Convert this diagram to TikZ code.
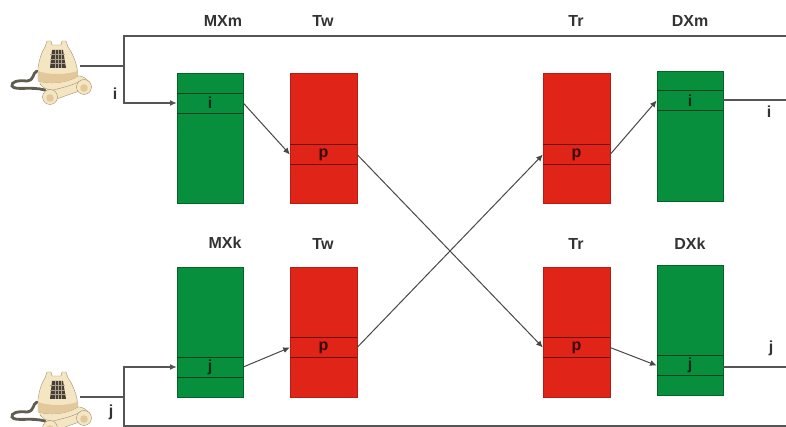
\documentclass[tikz,border=0pt]{standalone}
\usepackage{fontspec}
\setmainfont{Liberation Sans}
\usetikzlibrary{arrows.meta}
\definecolor{bxgreen}{RGB}{8,143,62}
\definecolor{bxred}{RGB}{224,36,24}
\definecolor{lnc}{RGB}{85,85,85}
\definecolor{phbody}{RGB}{245,230,195}
\definecolor{phshade}{RGB}{226,200,155}
\definecolor{phdark}{RGB}{70,62,55}
\definecolor{phcord}{RGB}{95,92,80}
\definecolor{phedge}{RGB}{165,145,110}
\tikzset{
  x=0.75pt,y=-0.75pt,
  wire/.style={draw=lnc,line width=0.9pt},
  link/.style={draw=black!72,line width=0.75pt,-{Latex[length=5pt,width=4.5pt]}},
  feed/.style={wire,-{Latex[length=5pt,width=4.5pt]}},
  gbox/.style={draw=black!30!bxgreen,fill=bxgreen,line width=0.4pt,inner sep=0pt,minimum width=49.5pt,minimum height=97.5pt},
  rbox/.style={draw=black!20!bxred,fill=bxred,line width=0.4pt,inner sep=0pt,minimum width=50pt,minimum height=97.5pt},
  bandtxt/.style={inner sep=0pt,font=\bfseries\fontsize{12pt}{13pt}\selectfont},
  gband/.style={bandtxt,minimum width=49.5pt,minimum height=14.6pt,text=black!70!bxgreen,
    append after command={(\tikzlastnode.north west) edge[draw=black!55!bxgreen,line width=0.7pt] (\tikzlastnode.north east)
      (\tikzlastnode.south west) edge[draw=black!55!bxgreen,line width=0.7pt] (\tikzlastnode.south east)}},
  rband/.style={bandtxt,minimum width=50pt,minimum height=14.4pt,text=black!75!bxred,
    append after command={(\tikzlastnode.north west) edge[draw=black!50!bxred,line width=0.7pt] (\tikzlastnode.north east)
      (\tikzlastnode.south west) edge[draw=black!50!bxred,line width=0.7pt] (\tikzlastnode.south east)}},
  title/.style={font=\bfseries\fontsize{12pt}{13pt}\selectfont,text=black!80,inner sep=0pt},
  lbl/.style={font=\bfseries\fontsize{12pt}{13pt}\selectfont,text=black!80,inner sep=0pt},
  pics/phone/.style={code={
    % cord
    \draw[phcord,line width=2.1pt,line cap=round] (37,71) .. controls (32,73) and (35,80) .. (27,81) .. controls (17,80) and (11,82) .. (12,86) .. controls (15,91) and (30,86) .. (45,90);
    % cradle base
    \fill[phbody,draw=phedge,line width=0.3pt] (40,76) -- (80,76) .. controls (88,78) and (92,84) .. (90,89) .. controls (84,91) and (76,87) .. (60,90) .. controls (52,91) and (44,90) .. (40,84) -- cycle;
    % body
    \fill[phbody,draw=phedge,line width=0.3pt] (38,81) -- (38,68) .. controls (39,60) and (42,51) .. (45,47) -- (47,41) -- (51,41) -- (52,45) -- (61,45) -- (62,41) -- (66,41) -- (68,47) .. controls (72,52) and (76,62) .. (77,68) -- (78,76) .. controls (66,84) and (48,84) .. (38,81) -- cycle;
    \fill[phshade] (38,71) .. controls (48,75) and (66,75) .. (77.5,71) -- (78,76) .. controls (66,84) and (48,84) .. (38,81) -- cycle;
    % handset
    \fill[phbody,draw=phedge,line width=0.3pt] (50,91) .. controls (60,88) and (72,86) .. (80,81) -- (86,89) .. controls (76,92) and (62,97) .. (54,100) -- cycle;
    \fill[phbody,draw=phedge,line width=0.3pt] (84,87) circle[radius=7.5];
    \fill[phbody,draw=phedge,line width=0.3pt] (50,97) circle[radius=7.5];
    \fill[phshade] (84,88) circle[radius=3.8];
    \fill[phshade] (50,98) circle[radius=3.8];
    % dial
    \fill[phdark] (52,50) -- (63,50) -- (66,68) -- (50,68) -- cycle;
    \foreach \yy in {54.5,59,63.5} \draw[phbody!60!phdark,line width=0.35pt] (50,\yy) -- (65,\yy);
    \foreach \xx in {55,58,61} \draw[phbody!60!phdark,line width=0.35pt] (\xx,50) -- (\xx,68);
  }}
}
\begin{document}
\begin{tikzpicture}
\useasboundingbox (0,0) rectangle (786,427);
% top row boxes
\node[gbox] (mxm) at (210,138) {};
\node[gband] (mxmb) at (210,103) {i};
\node[rbox] (twa) at (323.5,138) {};
\node[rband] (twab) at (323.5,154.5) {p};
\node[rbox] (tra) at (576.5,138.5) {};
\node[rband] (trab) at (576.5,154.5) {p};
\node[gbox] (dxm) at (690,136.5) {};
\node[gband] (dxmb) at (690,100.5) {i};
% bottom row boxes
\node[gbox] (mxk) at (210,332) {};
\node[gband] (mxkb) at (210,367) {j};
\node[rbox] (twb) at (323.5,332.5) {};
\node[rband] (twbb) at (323.5,347.5) {p};
\node[rbox] (trb) at (576.5,332.5) {};
\node[rband] (trbb) at (576.5,347.5) {p};
\node[gbox] (dxk) at (690,330.5) {};
\node[gband] (dxkb) at (690,365.5) {j};
% titles
\node[title] (t1) at (223,21) {MXm};
\node[title] (t2) at (323,21) {Tw};
\node[title] (t3) at (576,21) {Tr};
\node[title] (t4) at (690,21) {DXm};
\node[title] (t5) at (225,243) {MXk};
\node[title] (t6) at (323,244) {Tw};
\node[title] (t7) at (576,244) {Tr};
\node[title] (t8) at (690,244) {DXk};
% labels
\node[lbl] (li1) at (115,94) {i};
\node[lbl] (li2) at (769,112) {i};
\node[lbl] (lj1) at (111,412) {j};
\node[lbl] (lj2) at (771,348) {j};
% phones
\pic at (0,0) {phone};
\pic at (0,331) {phone};
\coordinate (pha) at (80,66);
\coordinate (phb) at (80,397);
\coordinate (ja) at (124,66);
\coordinate (jb) at (124,397);
\coordinate (tl) at (124,36);
\coordinate (tr) at (786,36);
\coordinate (bl) at (124,426);
\coordinate (br) at (786,426);
\coordinate (ea) at (786,100);
\coordinate (eb) at (786,367);
% wires
\draw[wire] (pha) -- (ja);
\draw[wire] (phb) -- (jb);
\draw[wire] (tr) -- (tl) -- (ja);
\draw[wire] (br) -- (bl) -- (jb);
\draw[feed] (ja) |- (mxmb.west);
\draw[feed] (jb) |- (mxkb.west);
\draw[wire] (dxmb.east |- ea) -- (ea);
\draw[wire] (dxkb.east |- eb) -- (eb);
% links
\draw[link] (mxmb.east) -- (twab.west);
\draw[link] (mxkb.east) -- (twbb.west);
\draw[link] (twab.east) -- (trbb.west);
\draw[link] (twbb.east) -- (trab.west);
\draw[link] (trab.east) -- (dxmb.west);
\draw[link] (trbb.east) -- (dxkb.west);
\end{tikzpicture}
\end{document}
